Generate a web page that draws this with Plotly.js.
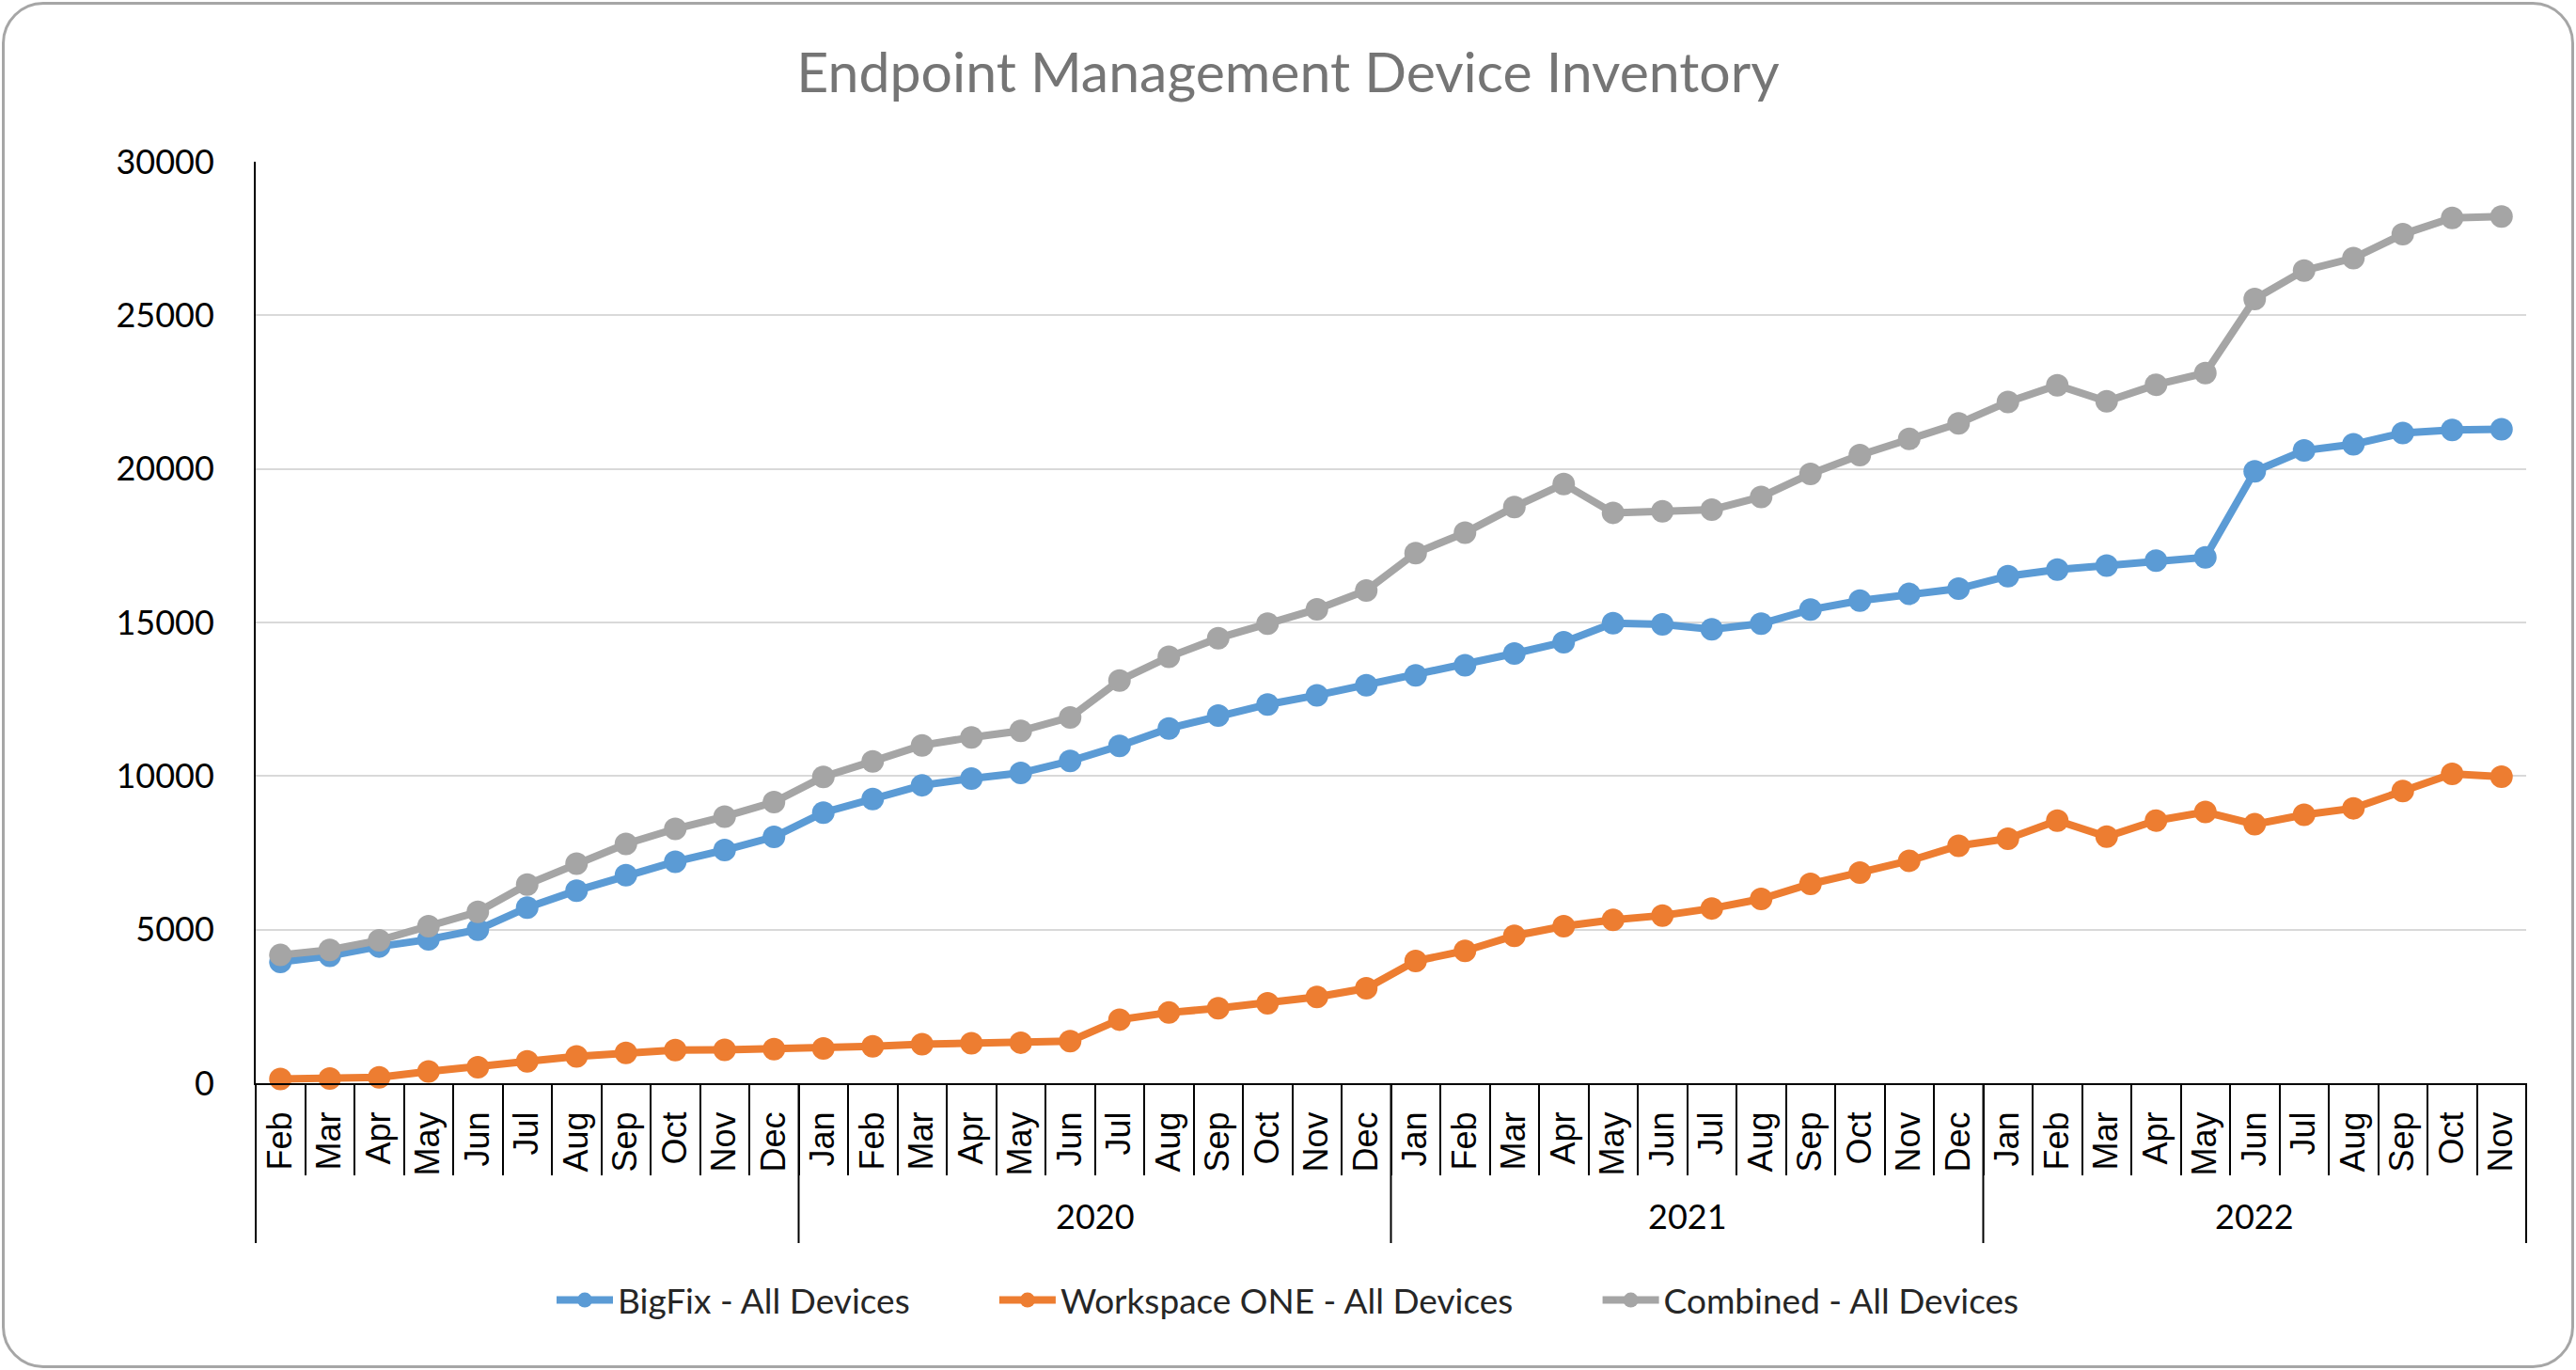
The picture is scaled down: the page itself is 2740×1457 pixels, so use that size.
<!DOCTYPE html>
<html>
<head>
<meta charset="utf-8">
<script src="https://cdn.plot.ly/plotly-3.0.1.min.js"></script>
<style>
  html, body { margin: 0; padding: 0; background: #ffffff; }
  #wrap { position: relative; width: 2740px; height: 1457px; }
  #chart { position: absolute; left: 0; top: 0; width: 2740px; height: 1457px; }
  #frame {
    position: absolute; left: 2px; top: 2px; width: 2730px; height: 1447px;
    border: 3px solid #a6a6a6; border-radius: 44px; pointer-events: none;
  }
</style>
</head>
<body>
<div id="wrap">
  <div id="chart"></div>
  <div id="frame"></div>
</div>
<script>
// Year groups on the x axis (first group has no label in the original)
const years = ['', '2020', '2021', '2022'];
const monthsByYear = [
    ['Feb', 'Mar', 'Apr', 'May', 'Jun', 'Jul', 'Aug', 'Sep', 'Oct', 'Nov', 'Dec'],
    ['Jan', 'Feb', 'Mar', 'Apr', 'May', 'Jun', 'Jul', 'Aug', 'Sep', 'Oct', 'Nov', 'Dec'],
    ['Jan', 'Feb', 'Mar', 'Apr', 'May', 'Jun', 'Jul', 'Aug', 'Sep', 'Oct', 'Nov', 'Dec'],
    ['Jan', 'Feb', 'Mar', 'Apr', 'May', 'Jun', 'Jul', 'Aug', 'Sep', 'Oct', 'Nov']
];

const bigfix = [
    3950, 4150, 4450, 4680, 5000, 5720, 6270, 6770, 7210, 7590, 8020,
    8810, 9250, 9700, 9920, 10100, 10490, 10980, 11550, 11970, 12330, 12630, 12960,
    13280, 13610, 13990, 14360, 14980, 14940, 14780, 14960, 15420, 15710, 15930, 16100,
    16510, 16720, 16850, 17010, 17120, 19920, 20600, 20800, 21170, 21270, 21290
];
const workspaceOne = [
    140, 150, 190, 380, 520, 710, 870, 990, 1080, 1090, 1110,
    1130, 1200, 1270, 1300, 1320, 1370, 2070, 2300, 2440, 2600, 2810, 3090,
    3980, 4310, 4800, 5110, 5320, 5460, 5690, 6000, 6490, 6860, 7240, 7730,
    7960, 8550, 8030, 8550, 8830, 8430, 8740, 8950, 9510, 10070, 9980
];
const combined = [
    4175, 4340, 4650, 5110, 5580, 6470, 7150, 7790, 8280, 8680, 9150,
    9970, 10480, 11000, 11260, 11470, 11910, 13110, 13880, 14490, 14960, 15430, 16040,
    17260, 17920, 18760, 19510, 18570, 18620, 18670, 19090, 19840, 20450, 20980, 21480,
    22180, 22720, 22200, 22740, 23120, 25530, 26460, 26860, 27640, 28170, 28220
];

const seriesNames = ['BigFix - All Devices', 'Workspace ONE - All Devices', 'Combined - All Devices'];
const seriesColors = ['#5b9bd5', '#ed7d31', '#a5a5a5'];

// flatten months; x is the running month index
const monthLabels = monthsByYear.flat();
const xIdx = monthLabels.map((_, i) => i);
const n = monthLabels.length;

// group boundaries (in index units, half way between months)
const groupEdges = [-0.5];
monthsByYear.forEach(m => groupEdges.push(groupEdges[groupEdges.length - 1] + m.length));
const cellEdges = [];
for (let i = 0; i <= n; i++) cellEdges.push(i - 0.5);

const toPaper = v => (v + 0.5) / n;

const calibriLike = 'Lato, "Open Sans", sans-serif';
// a little trailing room after each legend entry, like the original spacing
const legendPad = '\u00a0'.repeat(9);

const traces = [bigfix, workspaceOne, combined].map((vals, i) => ({
    x: xIdx,
    y: vals,
    type: 'scatter',
    mode: 'lines+markers',
    name: seriesNames[i] + (i < 2 ? legendPad : ''),
    line: { color: seriesColors[i], width: 8 },
    marker: { color: seriesColors[i], size: 24 },
    cliponaxis: false
}));

const dividerBottom = -0.1735;

const shapes = groupEdges.map(e => ({
    type: 'line',
    xref: 'paper', yref: 'paper',
    x0: toPaper(e), x1: toPaper(e),
    y0: 0, y1: dividerBottom,
    line: { color: '#000000', width: 2 }
}));

const annotations = years.map((yr, i) => ({
    text: yr,
    xref: 'paper', yref: 'paper',
    x: (toPaper(groupEdges[i]) + toPaper(groupEdges[i + 1])) / 2,
    y: -0.144,
    xanchor: 'center', yanchor: 'middle',
    showarrow: false,
    font: { family: calibriLike, size: 36, color: '#000000' }
})).filter(a => a.text !== '');

const layout = {
    width: 2740,
    height: 1457,
    paper_bgcolor: 'rgba(0,0,0,0)',
    plot_bgcolor: 'rgba(0,0,0,0)',
    margin: { l: 272, r: 53, t: 172, b: 305 },
    title: {
        text: 'Endpoint Management Device Inventory',
        font: { family: calibriLike, size: 59, color: '#757575' },
        x: 0.5,
        xanchor: 'center',
        y: 0.947,
        yanchor: 'middle'
    },
    xaxis: {
        range: [-0.5, n - 0.5],
        tickmode: 'array',
        tickvals: xIdx,
        ticktext: monthLabels,
        tickangle: -90,
        ticks: '',
        ticklabelstandoff: 14,
        tickfont: { family: '"Liberation Sans", Arial, sans-serif', size: 36, color: '#000000' },
        showgrid: false,
        zeroline: false,
        showline: true,
        linecolor: '#000000',
        linewidth: 2,
        minor: {
            tickmode: 'array',
            tickvals: cellEdges,
            ticks: 'outside',
            ticklen: 96,
            tickwidth: 2,
            tickcolor: '#000000',
            showgrid: false
        }
    },
    yaxis: {
        range: [0, 30000],
        dtick: 5000,
        tickformat: 'd',
        showgrid: true,
        gridcolor: '#d9d9d9',
        gridwidth: 2,
        zeroline: false,
        showline: true,
        linecolor: '#000000',
        linewidth: 2,
        ticks: '',
        ticklabelstandoff: 35,
        tickfont: { family: calibriLike, size: 36, color: '#000000' }
    },
    shapes: shapes,
    annotations: annotations,
    legend: {
        orientation: 'h',
        xref: 'container',
        yref: 'container',
        x: 0.5,
        xanchor: 'center',
        y: 1 - 1383 / 1457,
        yanchor: 'middle',
        font: { family: calibriLike, size: 37, color: '#262626' },
        itemwidth: 60
    },
    showlegend: true
};

Plotly.newPlot('chart', traces, layout, { displayModeBar: false, staticPlot: true });
</script>
</body>
</html>
